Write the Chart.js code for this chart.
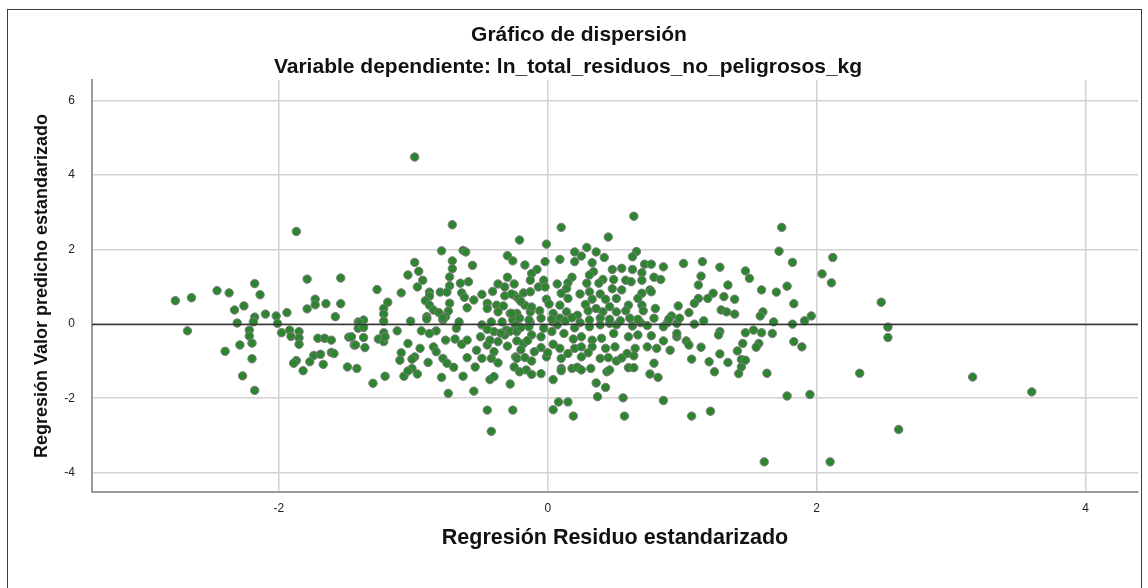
<!DOCTYPE html>
<html>
<head>
<meta charset="utf-8">
<script src="https://cdn.jsdelivr.net/npm/chart.js@4/dist/chart.umd.min.js"></script>
<style>
  html, body { margin: 0; padding: 0; background: #fff; }
  #wrap { width: 1148px; height: 588px; }
</style>
</head>
<body>
<div id="wrap"><canvas id="c" width="1148" height="588"></canvas></div>
<script>
// Standardized residual (x) and standardized predicted value (y) per case
const residuoEstandarizado = [
  -1.87,-1.79,-1.54,-2.18,-2.46,-2.37,-2.14,-2.77,-2.65,-1.73,-1.73,-1.65,-1.54,-1.79,-2.26,-2.33,-1.58,-2.10,-2.02,-1.94,
  -2.18,-2.19,-2.31,-2.01,-1.41,-2.68,-2.22,-1.98,-1.92,-1.85,
  -2.22,-2.20,-2.29,-2.40,-2.20,-2.27,-2.18,-1.91,-1.85,-1.85,-1.71,-1.66,-1.61,-1.48,-1.44,-1.74,-1.69,-1.77,-1.87,-1.89,
  -1.67,-1.82,-1.61,-1.59,-1.49,-1.42,-1.41,
  -0.99,-0.71,-0.79,-0.63,-0.61,-0.21,-0.30,-0.26,-0.99,-0.71,-0.56,-0.71,-0.96,-1.04,-0.93,-0.73,-0.30,-1.27,-1.09,-0.97,
  -0.73,-0.65,-0.59,-0.37,-0.32,-0.88,-0.80,-0.75,-0.64,-0.41,-0.32,-0.25,-0.49,-0.88,-0.62,-0.55,-0.91,-1.19,-0.73,-0.88,
  -0.45,-0.38,-0.33,-1.22,-0.60,-0.45,-0.85,-0.74,-0.37,-0.28,-0.23,-1.22,-0.81,-0.90,-0.76,-1.37,-1.40,-1.22,-1.02,-0.78,
  -0.66,-0.49,-0.42,-0.34,-0.26,-1.12,-1.37,-0.94,-0.83,-0.68,-0.40,-0.31,-1.22,
  -0.90,-0.78,-0.88,-1.46,-1.37,-1.26,-1.22,-1.21,-1.43,-1.36,-1.04,-0.95,-1.09,-0.99,-0.85,-0.83,-0.76,-0.69,-0.64,-0.60,
  -0.50,-0.53,-0.45,-0.43,-0.37,-0.32,-0.28,-0.23,-1.10,-1.01,-0.89,-0.78,-0.75,-0.70,-0.60,-0.49,-0.42,-0.37,-0.25,-0.24,
  -1.01,-1.07,-0.97,-1.04,-1.21,-1.30,-0.79,-0.63,-0.54,-0.43,-0.40,-0.28,-0.74,-0.55,-0.45,-0.26,-0.42,
  0.64,0.10,0.45,-0.01,0.29,0.20,0.25,0.36,0.42,0.66,0.63,0.09,0.20,0.33,-0.17,-0.02,0.72,0.77,0.86,-0.08,
  -0.12,0.48,0.55,0.63,0.34,0.31,0.70,0.18,-0.13,-0.03,0.41,0.49,0.58,0.79,0.84,0.07,0.15,0.29,0.38,0.62,
  0.70,-0.07,-0.02,-0.25,0.14,0.48,0.55,0.76,-0.27,-0.18,-0.13,0.10,0.24,0.31,0.39,0.70,0.77,-0.22,-0.01,0.15,
  0.33,0.43,0.51,0.67,-0.17,0.01,0.09,0.28,0.36,0.46,0.60,0.70,0.97,-0.27,-0.13,-0.06,0.04,0.14,0.22,0.30,
  0.41,0.51,0.58,0.71,0.80,0.92,-0.21,-0.05,0.09,0.39,0.61,0.79,-0.13,0.04,0.24,0.46,0.69,0.89,
  -0.24,-0.14,-0.03,0.07,0.20,0.31,0.39,0.51,0.63,0.74,0.86,0.96,-0.23,-0.12,-0.05,0.03,0.12,0.19,0.25,0.33,
  0.40,0.49,0.60,0.67,0.77,0.86,0.96,-0.18,-0.05,0.04,0.09,0.20,0.25,0.33,0.43,0.50,0.59,0.65,0.74,0.81,
  0.91,-0.23,-0.17,-0.12,-0.01,0.10,0.25,0.39,0.45,0.51,0.64,-0.16,-0.21,-0.12,-0.05,0.10,0.10,0.18,0.22,0.25,
  0.32,0.44,0.46,0.60,0.64,0.79,0.76,0.82,0.04,0.36,0.43,0.37,0.56,0.86,0.08,0.15,0.04,0.19,0.57,
  -0.14,0.03,0.13,0.18,0.31,0.46,0.54,0.67,0.90,-0.20,-0.12,-0.45,-0.35,-0.20,-0.15,-0.30,-0.40,-0.20,-0.10,0.00,
  0.15,0.30,0.55,
  1.74,1.72,2.12,2.04,2.11,1.01,1.15,1.28,1.47,1.50,1.82,1.14,1.12,1.34,1.78,1.59,1.70,1.23,1.31,1.12,
  1.19,1.39,1.09,1.83,1.29,1.33,1.39,1.60,1.58,1.96,1.91,1.05,0.98,1.16,1.09,1.68,1.82,1.28,1.47,1.53,
  1.59,1.67,0.96,
  1.03,1.05,1.14,1.27,1.45,1.57,1.55,1.83,1.89,1.07,1.20,1.28,1.34,1.41,1.44,1.47,1.44,1.24,1.42,1.63,
  1.78,1.95,1.21,1.07,1.61,2.10,
  2.48,2.53,2.53,2.32,3.16,3.60,2.61
];
const valorPredicho = [
  2.48,1.20,1.23,1.08,0.89,0.83,0.78,0.62,0.70,0.66,0.51,0.54,0.54,0.40,0.48,0.37,0.19,0.26,0.21,0.30,
  0.18,0.05,0.02,0.01,0.05,-0.19,-0.17,-0.24,-0.17,-0.21,
  -0.33,-0.52,-0.57,-0.74,-0.94,-1.40,-1.79,-0.34,-0.38,-0.55,-0.39,-0.39,-0.44,-0.36,-0.57,-0.85,-0.82,-1.02,-0.99,-1.06,
  -1.09,-1.26,-0.77,-0.80,-1.16,-1.20,-0.12,
  4.48,2.66,1.96,1.97,1.93,2.25,1.83,1.69,1.65,1.69,1.57,1.48,1.41,1.31,1.17,1.26,1.25,0.92,0.83,0.99,
  1.02,1.09,1.13,1.07,0.99,0.85,0.85,0.85,0.83,0.87,0.75,0.77,0.79,0.74,0.71,0.64,0.62,0.58,0.55,0.50,
  0.55,0.50,0.48,0.41,0.43,0.41,0.37,0.34,0.32,0.28,0.28,0.26,0.30,0.19,0.19,0.10,0.03,0.07,0.07,0.10,
  0.05,-0.03,0.05,0.05,0.10,-0.19,-0.10,-0.19,-0.19,-0.12,-0.21,-0.17,-0.24,
  0.13,0.16,-0.26,-0.35,-0.37,-0.41,-0.48,-0.35,-0.57,-0.64,-0.53,-0.66,-0.78,-0.89,-0.62,-0.75,-0.44,-0.41,-0.55,-0.44,
  -0.35,-0.71,-0.57,-0.44,-0.48,-0.30,-0.20,-0.46,-0.98,-0.95,-1.04,-0.93,-1.06,-1.17,-0.91,-0.93,-0.93,-1.05,-1.16,-0.89,
  -1.20,-1.41,-1.35,-1.27,-1.41,-1.60,-1.44,-1.41,-1.16,-1.50,-1.42,-1.62,-1.87,-1.81,-2.32,-2.32,-2.89,
  2.89,2.59,2.33,2.14,2.05,1.93,1.82,1.93,1.78,1.94,1.80,1.73,1.67,1.64,1.58,1.67,1.60,1.60,1.53,1.46,
  1.35,1.46,1.49,1.46,1.40,1.31,1.37,1.25,1.17,1.17,1.19,1.19,1.17,1.25,1.19,1.07,1.10,1.09,1.09,1.13,
  1.17,0.99,0.99,1.07,0.95,0.94,0.91,0.91,0.80,0.83,0.86,0.82,0.80,0.86,0.80,0.82,0.86,0.68,0.66,0.68,
  0.66,0.66,0.68,0.68,0.50,0.53,0.50,0.52,0.41,0.46,0.50,0.50,0.48,0.28,0.32,0.35,0.28,0.32,0.23,0.35,
  0.32,0.32,0.35,0.35,0.41,0.21,0.15,0.15,0.15,0.15,0.15,0.15,0.03,0.05,0.03,0.01,0.03,0.03,
  -0.03,-0.08,-0.12,-0.03,-0.11,-0.08,-0.03,-0.03,-0.06,-0.05,-0.08,0.01,-0.21,-0.30,-0.35,-0.21,-0.26,-0.41,-0.35,-0.44,
  -0.39,-0.26,-0.35,-0.30,-0.32,-0.46,-0.35,-0.53,-0.64,-0.55,-0.66,-0.66,-0.62,-0.62,-0.66,-0.62,-0.80,-0.66,-0.62,-0.66,
  -0.71,-0.93,-0.91,-1.00,-0.89,-0.93,-0.89,-0.93,-0.91,-1.00,-0.86,-1.24,-1.29,-1.36,-1.34,-1.20,-1.26,-1.20,-1.17,-1.24,
  -1.20,-1.29,-1.24,-1.18,-1.18,-1.06,-1.35,-1.44,-1.50,-1.59,-1.71,-1.96,-1.99,-2.06,-2.10,-2.10,-2.31,-2.48,-2.48,
  0.10,0.12,0.08,0.16,0.10,0.12,0.08,0.12,0.12,0.60,0.45,-0.15,-0.25,-0.10,-0.45,-0.60,-0.75,-0.70,-0.75,-0.78,
  -0.80,-0.78,-0.92,
  2.59,1.95,1.78,1.34,1.10,1.62,1.67,1.52,1.42,1.22,1.65,1.28,1.04,1.04,1.01,0.91,0.85,0.82,0.73,0.68,
  0.68,0.66,0.55,0.54,0.37,0.32,0.26,0.32,0.21,0.21,0.08,0.30,0.15,0.08,-0.01,0.05,-0.01,-0.21,-0.24,-0.17,
  -0.24,-0.26,-0.26,
  -0.46,-0.57,-0.63,-0.30,-0.53,-0.53,-0.63,-0.48,-0.62,-0.95,-1.02,-0.81,-1.04,-0.73,-0.96,-0.98,-1.16,-1.29,-1.34,-1.33,
  -1.94,-1.90,-2.35,-2.48,-3.71,-3.71,
  0.58,-0.09,-0.37,-1.33,-1.43,-1.83,-2.84
];

const xTickValues = [-2, 0, 2, 4];
const xTickLabels = ['-2', '0', '2', '4'];
const yTickValues = [-4, -2, 0, 2, 4, 6];
const yTickLabels = ['-4', '-2', '0', '2', '4', '6'];
const xRange = [-3.39, 4.39];
const yRange = [-4.52, 6.55];
const lineaReferenciaY = 0;

const tituloTexto = 'Gráfico de dispersión';
const subtituloTexto = 'Variable dependiente: ln_total_residuos_no_peligrosos_kg';

const puntos = residuoEstandarizado.map((x, i) => ({ x: x, y: valorPredicho[i] }));

const FONT = "'Liberation Sans', Arial, sans-serif";

// white background, outer frame, both heading lines and the y reference line
const framePlugin = {
  id: 'frame',
  beforeDraw(chart) {
    const ctx = chart.ctx;
    ctx.save();
    ctx.fillStyle = '#ffffff';
    ctx.fillRect(0, 0, chart.width, chart.height);
    ctx.strokeStyle = '#3c3c3c';
    ctx.lineWidth = 1;
    ctx.strokeRect(7.5, 9.5, 1134, 600);
    ctx.fillStyle = '#111';
    ctx.font = 'bold 21px ' + FONT;
    ctx.textAlign = 'center';
    ctx.textBaseline = 'middle';
    ctx.fillText(tituloTexto, 579, 35);
    ctx.fillText(subtituloTexto, 568, 67);
    ctx.restore();
  },
  afterDatasetsDraw(chart) {
    const ctx = chart.ctx;
    const area = chart.chartArea;
    const y = Math.round(chart.scales.y.getPixelForValue(lineaReferenciaY)) + 0.5;
    ctx.save();
    ctx.strokeStyle = '#333333';
    ctx.lineWidth = 1.5;
    ctx.beginPath();
    ctx.moveTo(area.left, y);
    ctx.lineTo(area.right, y);
    ctx.stroke();
    ctx.restore();
  }
};

new Chart(document.getElementById('c'), {
  type: 'scatter',
  data: {
    datasets: [{
      label: 'Casos',
      data: puntos,
      backgroundColor: '#2e8530',
      borderColor: '#7c7c7c',
      borderWidth: 1,
      pointRadius: 4.2,
      pointHoverRadius: 4.2
    }]
  },
  plugins: [framePlugin],
  options: {
    responsive: false,
    animation: false,
    devicePixelRatio: 1,
    layout: { padding: { left: 30, right: 10, top: 80, bottom: 30 } },
    plugins: {
      legend: { display: false },
      tooltip: { enabled: false },
      title: { display: false },
      subtitle: { display: false }
    },
    scales: {
      x: {
        type: 'linear',
        min: xRange[0],
        max: xRange[1],
        afterBuildTicks(axis) { axis.ticks = xTickValues.map(v => ({ value: v })); },
        afterFit(axis) { axis.height = 66; },
        ticks: {
          padding: 9,
          color: '#222',
          font: { family: FONT, size: 12 },
          callback: (v) => xTickLabels[xTickValues.indexOf(v)]
        },
        grid: { color: '#d2d2d2', lineWidth: 1.5, drawTicks: false },
        border: { display: true, color: '#9a9a9a', width: 2 },
        title: {
          display: true,
          text: 'Regresión Residuo estandarizado',
          color: '#111',
          font: { family: FONT, size: 21.5, weight: 'bold' },
          padding: { top: 0, bottom: 7 }
        }
      },
      y: {
        type: 'linear',
        min: yRange[0],
        max: yRange[1],
        afterBuildTicks(axis) { axis.ticks = yTickValues.map(v => ({ value: v })); },
        afterFit(axis) { axis.width = 62; },
        ticks: {
          padding: 17,
          color: '#222',
          font: { family: FONT, size: 12 },
          callback: (v) => yTickLabels[yTickValues.indexOf(v)]
        },
        grid: { color: '#d2d2d2', lineWidth: 1.5, drawTicks: false },
        border: { display: true, color: '#9a9a9a', width: 2 },
        title: {
          display: true,
          text: 'Regresión Valor predicho estandarizado',
          color: '#111',
          font: { family: FONT, size: 18, weight: 'bold' },
          padding: { top: 1, bottom: 0 }
        }
      }
    }
  }
});
</script>
</body>
</html>
